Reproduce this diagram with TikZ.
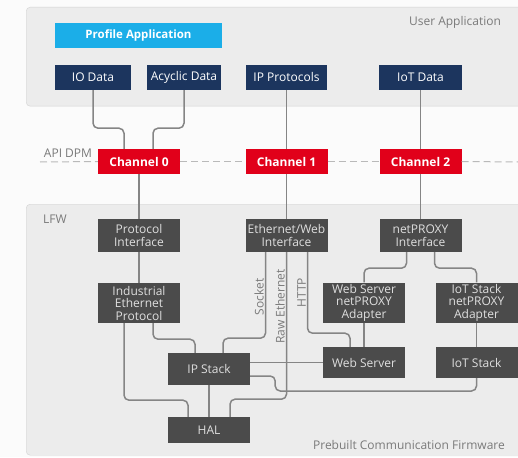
\documentclass[tikz,border=0pt]{standalone}
\usepackage{fontspec}
\setmainfont{Open Sans}
\usepackage{xcolor}
\usepackage{tikz}
\usetikzlibrary{positioning, calc}

\definecolor{navy}{HTML}{1C355E}
\definecolor{skyblue}{HTML}{1BAEE8}
\definecolor{chanred}{HTML}{E1001A}
\definecolor{fwgray}{HTML}{4B4B4B}
\definecolor{wiregray}{HTML}{858585}
\definecolor{panelgray}{HTML}{ECECEC}
\definecolor{labelgray}{HTML}{7A7A7A}

\begin{document}
\begin{tikzpicture}[x=1pt, y=-1pt]
    \tikzstyle{panel} = [rectangle, draw=gray!35, fill=panelgray, rounded corners=4pt, anchor=north west, inner sep=0pt]
    \tikzstyle{box} = [rectangle, inner sep=0pt, minimum height=25pt, text=white, align=center, font=\fontsize{12}{12.5}\selectfont]
    \tikzstyle{navybox} = [box, fill=navy]
    \tikzstyle{chanbox} = [box, fill=chanred, font=\fontsize{12}{12.5}\selectfont\bfseries, minimum width=82pt]
    \tikzstyle{fwbox} = [box, fill=fwgray, text=gray!25, minimum width=82pt]
    \tikzstyle{lbl} = [text=labelgray, font=\fontsize{12}{12.5}\selectfont, inner sep=1pt]
    \tikzstyle{wire} = [draw=wiregray, line width=1.5pt, rounded corners=5pt]
    \tikzstyle{apiline} = [draw=gray!55, line width=1pt, dash pattern=on 7pt off 4pt]

    \useasboundingbox (0,0) rectangle (518,457);
    \clip (0,0) rectangle (518,457);
    \fill[white!97!gray] (0,0) rectangle (518,457);

    % User application
    \node[panel, minimum width=500pt, minimum height=99pt] (userpanel) at (26,7) {};
    \node[lbl] (userlbl) at (455,22) {User Application};
    \node[box, fill=skyblue, font=\fontsize{11.5}{12.5}\selectfont\bfseries, minimum width=167pt] (profile) at (138.5,35.5) {Profile Application};
    \node[navybox, minimum width=76pt] (iodata) at (93,77.5) {IO Data};
    \node[navybox, minimum width=74pt] (acyclic) at (184,77.5) {Acyclic Data};
    \node[navybox, minimum width=81pt] (ipproto) at (286.5,77.5) {IP Protocols};
    \node[navybox, minimum width=83pt] (iotdata) at (420.5,77.5) {IoT Data};

    % Firmware
    \node[panel, minimum width=500pt, minimum height=251pt] (lfwpanel) at (26,204) {};
    \node[lbl] (lfwlbl) at (55,219) {LFW};
    \node[lbl] (pcflbl) at (409,445) {Prebuilt Communication Firmware};

    % API DPM
    \node[lbl] (apilbl) at (68,153) {API DPM};
    \coordinate (apistart) at (40,162);
    \coordinate (apiend) at (518,162);
    \node[chanbox] (ch0) at (139,161.5) {Channel 0};
    \node[chanbox] (ch1) at (286.5,161.5) {Channel 1};
    \node[chanbox] (ch2) at (420.5,161.5) {Channel 2};

    % Interfaces
    \node[fwbox, minimum height=33pt] (protif) at (139,235.5) {Protocol\\Interface};
    \node[fwbox, minimum height=33pt] (ethif) at (286.5,235.5) {Ethernet/Web\\Interface};
    \node[fwbox, minimum height=33pt] (npif) at (420.5,235.5) {netPROXY\\Interface};

    % Stacks
    \node[fwbox, minimum height=40pt] (iep) at (139,303) {Industrial\\Ethernet\\Protocol};
    \node[fwbox, minimum height=40pt] (wsadapt) at (364,302.5) {Web Server\\netPROXY\\Adapter};
    \node[fwbox, minimum height=40pt] (iotadapt) at (476.5,302.5) {IoT Stack\\netPROXY\\Adapter};
    \node[fwbox, minimum height=31pt] (websrv) at (364,362.5) {Web Server};
    \node[fwbox, minimum height=31pt] (iotstack) at (476.5,362.5) {IoT Stack};
    \node[fwbox, minimum height=32pt] (ipstack) at (209,369) {IP Stack};
    \node[fwbox, minimum height=26pt] (hal) at (209,430) {HAL};

    % API line
    \draw[apiline] (apistart) -- (ch0.west);
    \draw[apiline] (ch0.east) -- (ch1.west);
    \draw[apiline] (ch1.east) -- (ch2.west);
    \draw[apiline] (ch2.east) -- (apiend);

    % Wires
    \draw[wire] (iodata.south) -- ++(0,38) -| ([xshift=-15pt]ch0.north);
    \draw[wire] (acyclic.south) -- ++(0,38) -| ([xshift=14pt]ch0.north);
    \draw[wire] (ipproto) -- (ch1);
    \draw[wire] (iotdata) -- (ch2);
    \draw[wire] (ch0) -- (protif);
    \draw[wire] (ch1) -- (ethif);
    \draw[wire] (ch2) -- (npif);
    \draw[wire] (protif) -- (iep);
    \draw[wire] ([xshift=-14pt]npif.south) -- ++(0,16) -| (wsadapt.north);
    \draw[wire] ([xshift=14pt]npif.south) -- ++(0,16) -| (iotadapt.north);
    \draw[wire] (wsadapt) -- (websrv);
    \draw[wire] (iotadapt) -- (iotstack);
    \draw[wire] ([xshift=-21pt]ethif.south) -- node[lbl, rotate=90, anchor=south, pos=0.52] {Socket} ++(0,86) -| ([xshift=14pt]ipstack.north);
    \draw[wire] (ethif.south) -- node[lbl, rotate=90, anchor=south, pos=0.37] {Raw Ethernet} ++(0,147) -| ([xshift=21pt]hal.north);
    \draw[wire] ([xshift=21pt]ethif.south) -- node[lbl, rotate=90, anchor=south, pos=0.5] {HTTP} ++(0,81) -| ([xshift=-14pt]websrv.north);
    \draw[wire] ([xshift=-15pt]iep.south) -- ++(0,77) -| ([xshift=-21pt]hal.north);
    \draw[wire] ([xshift=14pt]iep.south) -- ++(0,16) -| ([xshift=-14pt]ipstack.north);
    \draw[wire] (ipstack) -- (hal);
    \draw[wire] (websrv.west) -- (websrv.west -| ipstack.east);
    \draw[wire] ([yshift=-7pt]ipstack.east) -- ++(25,0) -- ++(0,15) -| (iotstack.south);
\end{tikzpicture}
\end{document}
